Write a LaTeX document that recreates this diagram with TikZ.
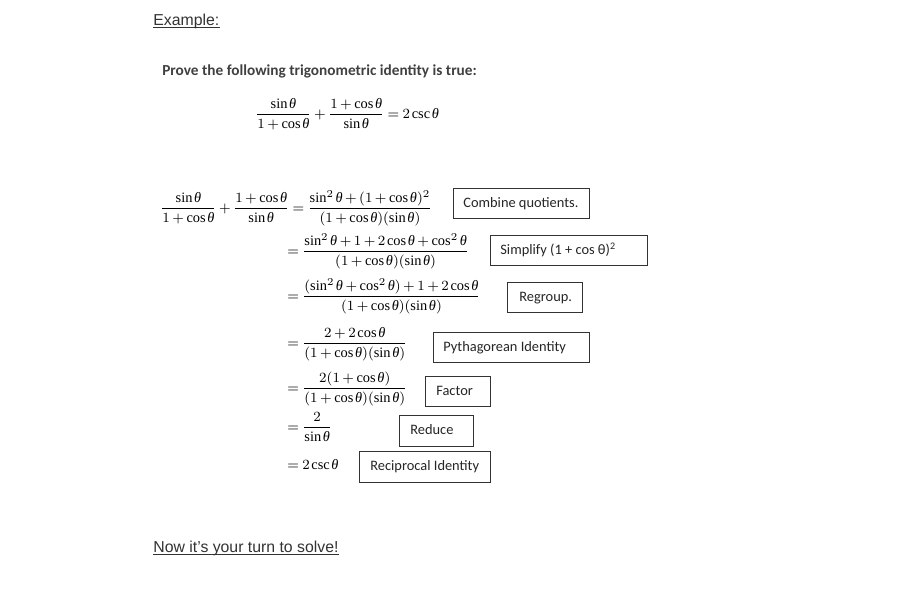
\documentclass[tikz,border=0pt]{standalone}
\usepackage{amsmath}
\usepackage{fontspec}
\setmainfont{Liberation Serif}
\newfontfamily\notefont{Carlito}
\newfontfamily\headfont{Liberation Sans}
\newcommand{\tht}{\textit{θ}}
\thinmuskip=2mu\relax
\medmuskip=3mu\relax
\thickmuskip=4mu\relax
\tikzset{
  eqn/.style={anchor=base west, inner sep=0pt, font=\fontsize{8.2}{10}\selectfont},
  note/.style={anchor=base west, inner sep=0pt, font=\notefont\fontsize{8.2}{10}\selectfont, text=black!85},
  head/.style={anchor=base west, inner sep=0pt, font=\headfont\fontsize{9}{11}\selectfont, text=black!80},
  notebox/.style={draw=black!80, line width=0.5pt},
  underl/.style={draw=black!80, line width=0.5pt}
}
\begin{document}
\begin{tikzpicture}[x=0.02cm,y=-0.02cm]
       \fill[white] (0,0) rectangle (900,600);
       \node[head] (example) at (153,25) {Example:};
       \draw[underl] ([yshift=-1.3pt]example.base west) -- ([yshift=-1.3pt]example.base east);

       \node[note, font=\notefont\bfseries\fontsize{8.7}{10}\selectfont, text=black!75] (task) at (162,75)
            {Prove the following trigonometric identity is true:};
       \node[eqn] (identity) at (255,118)
            {$\dfrac{\sin\tht}{1+\cos\tht}+\dfrac{1+\cos\tht}{\sin\tht}=2\csc\tht$};

       % proof steps
       \node[eqn] (step1) at (160,212)
            {$\dfrac{\sin\tht}{1+\cos\tht}+\dfrac{1+\cos\tht}{\sin\tht}=\dfrac{\sin^2\tht+(1+\cos\tht)^2}{(1+\cos\tht)(\sin\tht)}$};
       \node[eqn] (step2) at (287,255)
            {$=\dfrac{\sin^2\tht+1+2\cos\tht+\cos^2\tht}{(1+\cos\tht)(\sin\tht)}$};
       \node[eqn] (step3) at (287,300)
            {$=\dfrac{(\sin^2\tht+\cos^2\tht)+1+2\cos\tht}{(1+\cos\tht)(\sin\tht)}$};
       \node[eqn] (step4) at (287,347)
            {$=\dfrac{2+2\cos\tht}{(1+\cos\tht)(\sin\tht)}$};
       \node[eqn] (step5) at (287,392)
            {$=\dfrac{2(1+\cos\tht)}{(1+\cos\tht)(\sin\tht)}$};
       \node[eqn] (step6) at (287,431)
            {$=\dfrac{2}{\sin\tht}$};
       \node[eqn] (step7) at (287,469)
            {$=2\csc\tht$};

       % reasons
       \draw[notebox] (453,188) rectangle (589,218);
       \node[note] (combine) at (463,207) {Combine quotients.};

       \draw[notebox] (490,235) rectangle (647,265);
       \node[note] (simplify) at (500,254) {Simplify (1 + cos θ)\textsuperscript{2}};

       \draw[notebox] (507,282) rectangle (582,312);
       \node[note] (regroup) at (519,301) {Regroup.};

       \draw[notebox] (433,332) rectangle (589,362);
       \node[note] (pythagoras) at (443,351) {Pythagorean Identity};

       \draw[notebox] (425,376) rectangle (490,406);
       \node[note] (factor) at (436,395) {Factor};

       \draw[notebox] (399,415) rectangle (473,446);
       \node[note] (reduce) at (410,434) {Reduce};

       \draw[notebox] (359,451) rectangle (490,482);
       \node[note] (reciprocal) at (370,470) {Reciprocal Identity};

       \node[head] (yourturn) at (153,552) {Now it’s your turn to solve!};
       \draw[underl] ([yshift=-1.3pt]yourturn.base west) -- ([yshift=-1.3pt]yourturn.base east);
\end{tikzpicture}
\end{document}
